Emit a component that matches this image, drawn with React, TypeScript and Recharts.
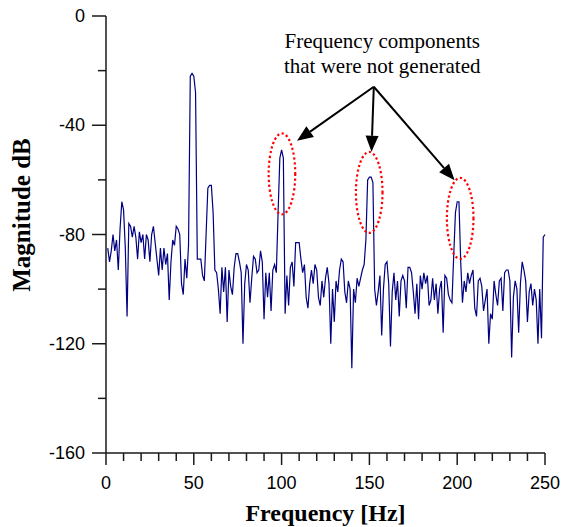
import React from 'react';
import { LineChart, Line, XAxis, YAxis, ReferenceDot, ReferenceLine } from 'recharts';

// Spectrum magnitude (dB) at 1 Hz bins starting at 1 Hz
const magnitudes = [
  -85, -90, -86, -80, -86, -82, -93, -78, -68, -71,
  -85, -110, -76, -77, -81, -77, -81, -89, -79, -83,
  -80, -89, -80, -82, -90, -80, -77, -83, -89, -95,
  -85, -93, -85, -91, -87, -104, -90, -82, -84, -77,
  -78, -80, -98, -102, -89, -96, -84, -22, -21, -22,
  -28, -89, -89, -89, -95, -97, -80, -63, -62, -62,
  -72, -93, -94, -100, -109, -92, -101, -92, -112, -93,
  -99, -102, -92, -87, -87, -90, -94, -120, -98, -91,
  -93, -105, -96, -88, -89, -94, -93, -86, -90, -111,
  -94, -103, -94, -108, -93, -91, -94, -72, -52, -49,
  -52, -109, -95, -106, -92, -90, -99, -83, -83, -83,
  -89, -94, -91, -103, -107, -98, -93, -98, -91, -93,
  -103, -106, -97, -103, -96, -92, -98, -120, -100, -112,
  -97, -101, -93, -89, -90, -101, -105, -97, -100, -129,
  -100, -105, -96, -99, -96, -93, -91, -82, -60, -59,
  -59, -61, -100, -106, -101, -95, -117, -100, -91, -90,
  -98, -121, -101, -94, -104, -97, -110, -97, -95, -97,
  -107, -92, -92, -94, -101, -109, -98, -111, -95, -100,
  -94, -98, -95, -106, -104, -96, -104, -98, -109, -100,
  -97, -116, -95, -96, -102, -104, -105, -88, -72, -68,
  -68, -90, -105, -97, -101, -94, -98, -95, -93, -107,
  -110, -97, -96, -99, -108, -104, -100, -120, -109, -111,
  -97, -102, -106, -97, -96, -108, -94, -93, -93, -97,
  -125, -103, -97, -100, -116, -98, -90, -93, -97, -112,
  -101, -98, -106, -100, -104, -120, -100, -118, -81, -80,
];
const FREQ_STEP_HZ = 1;
const data = magnitudes.map((m, i) => ({ f: (i + 1) * FREQ_STEP_HZ, mag: m }));

const xTicks = [0, 10, 20, 30, 40, 50, 60, 70, 80, 90, 100, 110, 120, 130, 140, 150, 160, 170, 180, 190, 200, 210, 220, 230, 240, 250];
const xLabelTicks = [0, 50, 100, 150, 200, 250];
const yTicks = [-160, -140, -120, -100, -80, -60, -40, -20, 0];
const yLabelTicks = [-160, -120, -80, -40, 0];

const circledPeaks = [
  { f: 100.2, db: -57.8 },
  { f: 149.9, db: -64.6 },
  { f: 201.7, db: -74.1 },
];
const arrowOrigin = { f: 152.5, db: -25.9 };
const arrowTips = [
  { f: 108.8, db: -45.7 },
  { f: 151.2, db: -49.7 },
  { f: 198.5, db: -60.1 },
];
const noteLines = ['Frequency components', 'that were not generated'];
const notePos = { f: 157.3, db: -11.6 };

const SANS = '"Liberation Sans", Arial, sans-serif';
const SERIF = '"Liberation Serif", "Times New Roman", serif';
const AXIS_COLOR = '#1a1a1a';

const XTick = (props: any) => {
  const { x, y, payload } = props;
  const major = xLabelTicks.includes(payload.value);
  return (
    <g>
      <line x1={x} y1={y} x2={x} y2={y + (major ? 12 : 8)} stroke={AXIS_COLOR} strokeWidth={1.5} />
      {major && (
        <text x={x} y={y + 36} textAnchor="middle" fontSize={18} fontFamily={SANS} fill="#000">
          {payload.value}
        </text>
      )}
    </g>
  );
};

const YTick = (props: any) => {
  const { x, y, payload } = props;
  const major = yLabelTicks.includes(payload.value);
  return (
    <g>
      <line x1={x} y1={y} x2={x - (major ? 14 : 8)} y2={y} stroke={AXIS_COLOR} strokeWidth={1.5} />
      {major && (
        <text x={x - 21} y={y + 6} textAnchor="end" fontSize={18} fontFamily={SANS} fill="#000">
          {payload.value}
        </text>
      )}
    </g>
  );
};

const XTitle = (props: any) => {
  const vb = props.viewBox || { x: 106, y: 453, width: 439, height: 74 };
  return (
    <text x={vb.x + vb.width / 2} y={vb.y + 68} textAnchor="middle" fontSize={24} fontWeight="bold" fontFamily={SERIF} fill="#000">
      Frequency [Hz]
    </text>
  );
};

const YTitle = (props: any) => {
  const cx = 30;
  const cy = 215;
  return (
    <text x={cx} y={cy} transform={`rotate(-90 ${cx} ${cy})`} textAnchor="middle" fontSize={25} fontWeight="bold" fontFamily={SERIF} fill="#000">
      Magnitude dB
    </text>
  );
};

const EllipseShape = (props: any) => (
  <ellipse cx={props.cx} cy={props.cy} rx={13.3} ry={40.5} fill="none" stroke="#ff0000" strokeWidth={2.2} strokeDasharray="2.2 2.6" />
);

const ArrowShape = (props: any) => {
  const { x1, y1, x2, y2 } = props;
  const dx = x2 - x1;
  const dy = y2 - y1;
  const len = Math.sqrt(dx * dx + dy * dy) || 1;
  const ux = dx / len;
  const uy = dy / len;
  const headLen = 16;
  const headHalf = 6.5;
  const bx = x2 - ux * headLen;
  const by = y2 - uy * headLen;
  const px = -uy;
  const py = ux;
  return (
    <g>
      <line x1={x1} y1={y1} x2={bx} y2={by} stroke="#000" strokeWidth={2} />
      <polygon
        points={`${x2},${y2} ${bx + px * headHalf},${by + py * headHalf} ${bx - px * headHalf},${by - py * headHalf}`}
        fill="#000"
      />
    </g>
  );
};

const NoteShape = (props: any) => (
  <text x={props.cx} y={props.cy} textAnchor="middle" fontSize={21} fontFamily={SERIF} fill="#000">
    {noteLines.map((l, i) => (
      <tspan key={i} x={props.cx} dy={i === 0 ? 0 : 25}>
        {l}
      </tspan>
    ))}
  </text>
);

export default function App() {
  return (
    <div style={{ position: 'absolute', left: 0, top: 0, background: '#fff' }}>
      <LineChart width={571} height={527} data={data} margin={{ top: 16, right: 26, bottom: 0, left: 0 }}>
        <XAxis
          dataKey="f"
          type="number"
          domain={[0, 250]}
          ticks={xTicks}
          interval={0}
          tickSize={0}
          tickMargin={0}
          tickLine={false}
          tick={<XTick />}
          height={74}
          axisLine={{ stroke: AXIS_COLOR, strokeWidth: 1.5 }}
          label={<XTitle />}
        />
        <YAxis
          type="number"
          domain={[-160, 0]}
          ticks={yTicks}
          interval={0}
          tickSize={0}
          tickMargin={0}
          tickLine={false}
          tick={<YTick />}
          width={106}
          axisLine={{ stroke: AXIS_COLOR, strokeWidth: 1.5 }}
          label={<YTitle />}
        />
        <Line
          dataKey="mag"
          type="linear"
          stroke="#000080"
          strokeWidth={1.2}
          dot={false}
          isAnimationActive={false}
        />
        {circledPeaks.map((p, i) => (
          <ReferenceDot key={`e${i}`} x={p.f} y={p.db} r={1} shape={EllipseShape} ifOverflow="visible" />
        ))}
        {arrowTips.map((t, i) => (
          <ReferenceLine
            key={`a${i}`}
            segment={[{ x: arrowOrigin.f, y: arrowOrigin.db }, { x: t.f, y: t.db }]}
            shape={ArrowShape}
            ifOverflow="visible"
          />
        ))}
        <ReferenceDot x={notePos.f} y={notePos.db} r={1} shape={NoteShape} ifOverflow="visible" />
      </LineChart>
    </div>
  );
}
